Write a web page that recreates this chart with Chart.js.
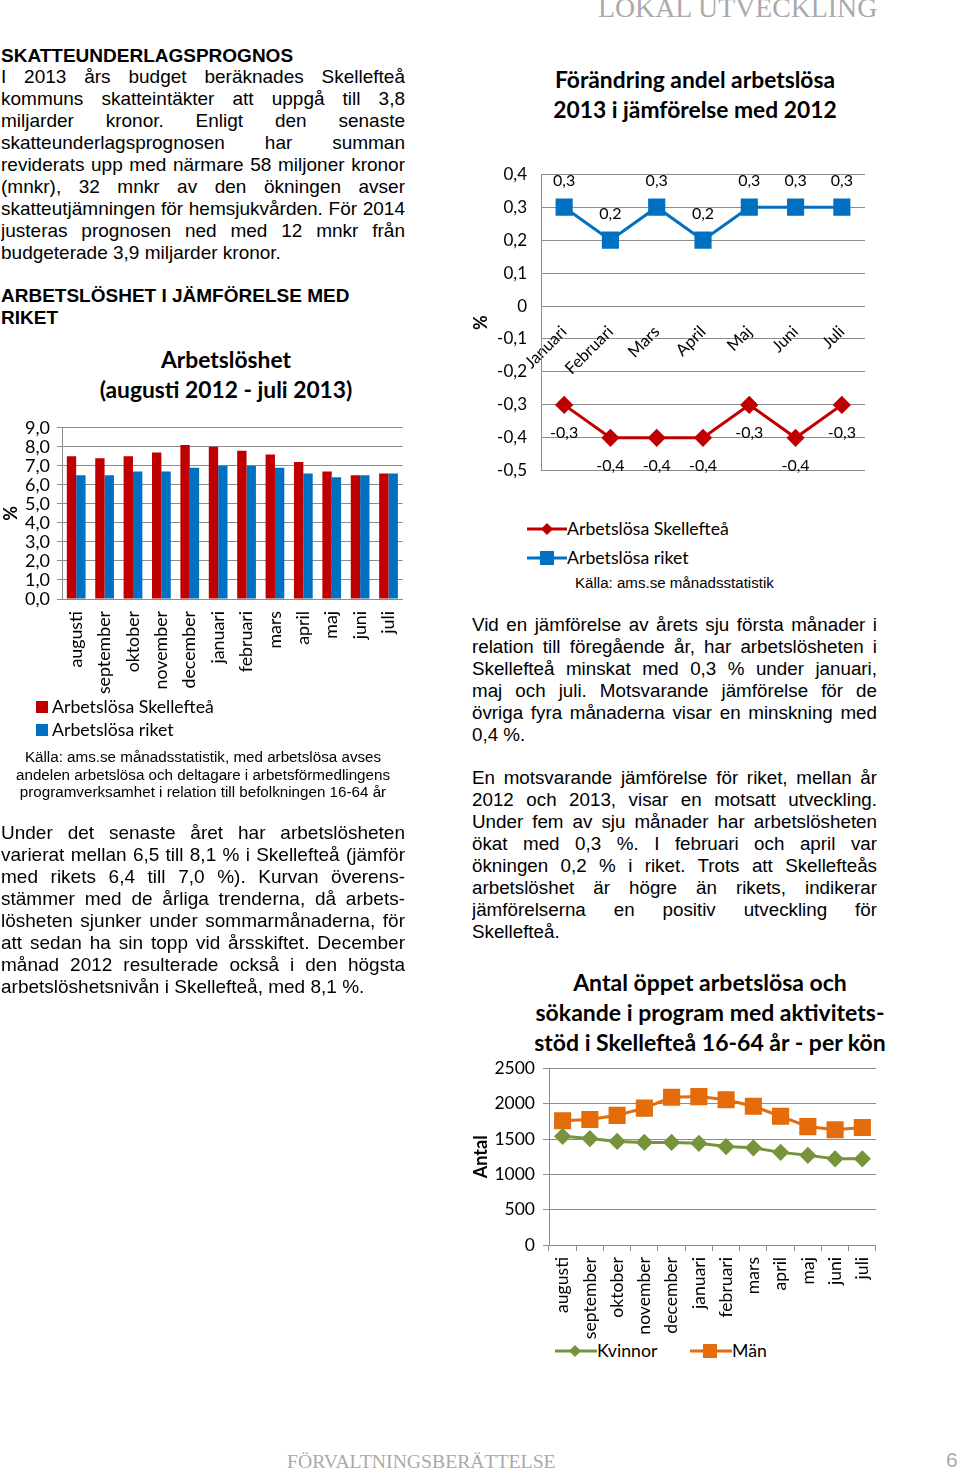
<!DOCTYPE html>
<html lang="sv">
<head>
<meta charset="utf-8">
<script src="https://cdn.jsdelivr.net/npm/chart.js@4.4.0/dist/chart.umd.min.js"></script>
<style>
body{margin:0;background:#fff;width:960px;height:1471px;position:relative;overflow:hidden;font-family:"Liberation Sans",Arial,sans-serif;color:#000;}
.abs{position:absolute;}
.para{position:absolute;font-size:19px;line-height:22px;}
.para span{display:block;white-space:nowrap;text-align:justify;text-align-last:justify;overflow:hidden;}
.para span.last{text-align-last:left;}
.head{position:absolute;font-weight:bold;font-size:19px;line-height:22px;}
.ctitle{position:absolute;font-family:Lato,sans-serif;font-weight:bold;font-size:22.8px;line-height:30px;text-align:center;}
.leg{position:absolute;font-family:Lato,sans-serif;font-size:17.7px;line-height:22px;white-space:nowrap;}
.src{position:absolute;font-size:15.2px;line-height:17.5px;text-align:center;}
canvas{position:absolute;}
</style>
</head>
<body>

<div class="abs" style="left:598px;top:-8px;font-family:'Liberation Serif',serif;font-size:27.8px;color:#aaa;">LOKAL UTVECKLING</div>

<div class="head" style="left:1px;top:45px;">SKATTEUNDERLAGSPROGNOS</div>
<div class="para" style="left:1px;top:66px;width:404px;">
<span>I 2013 års budget beräknades Skellefteå</span>
<span>kommuns skatteintäkter att uppgå till 3,8</span>
<span>miljarder kronor. Enligt den senaste</span>
<span>skatteunderlagsprognosen har summan</span>
<span>reviderats upp med närmare 58 miljoner kronor</span>
<span>(mnkr), 32 mnkr av den ökningen avser</span>
<span>skatteutjämningen för hemsjukvården. För 2014</span>
<span>justeras prognosen ned med 12 mnkr från</span>
<span class="last">budgeterade 3,9 miljarder kronor.</span>
</div>

<div class="head" style="left:1px;top:285px;">ARBETSLÖSHET I JÄMFÖRELSE MED<br>RIKET</div>

<div class="ctitle" style="left:60px;top:344px;width:332px;">Arbetslöshet<br>(augusti 2012 - juli 2013)</div>
<canvas id="barChart" width="414" height="295" style="left:0;top:410px;"></canvas>
<div class="leg" style="left:36px;top:696px;"><span style="display:inline-block;width:12px;height:12px;background:#C00000;margin-right:4px;"></span>Arbetslösa Skellefteå</div>
<div class="leg" style="left:36px;top:719px;"><span style="display:inline-block;width:12px;height:12px;background:#0070C0;margin-right:4px;"></span>Arbetslösa riket</div>
<div class="src" style="left:0;top:748px;width:406px;">Källa: ams.se månadsstatistik, med arbetslösa avses<br>andelen arbetslösa och deltagare i arbetsförmedlingens<br>programverksamhet i relation till befolkningen 16-64 år</div>

<div class="para" style="left:1px;top:822px;width:404px;">
<span>Under det senaste året har arbetslösheten</span>
<span>varierat mellan 6,5 till 8,1 % i Skellefteå (jämför</span>
<span>med rikets 6,4 till 7,0 %). Kurvan överens-</span>
<span>stämmer med de årliga trenderna, då arbets-</span>
<span>lösheten sjunker under sommarmånaderna, för</span>
<span>att sedan ha sin topp vid årsskiftet. December</span>
<span>månad 2012 resulterade också i den högsta</span>
<span class="last">arbetslöshetsnivån i Skellefteå, med 8,1 %.</span>
</div>

<div class="ctitle" style="left:525px;top:64px;width:340px;">Förändring andel arbetslösa<br>2013 i jämförelse med 2012</div>
<canvas id="diffChart" width="410" height="345" style="left:470px;top:150px;"></canvas>
<div class="leg" style="left:527px;top:518px;"><svg width="40" height="14" style="vertical-align:-1px"><line x1="0" y1="7" x2="40" y2="7" stroke="#C00000" stroke-width="3"/><polygon points="20,1 26,7 20,13 14,7" fill="#C00000"/></svg>Arbetslösa Skellefteå</div>
<div class="leg" style="left:527px;top:547px;"><svg width="40" height="14" style="vertical-align:-1px"><line x1="0" y1="7" x2="40" y2="7" stroke="#0070C0" stroke-width="3"/><rect x="13" y="0" width="14" height="14" fill="#0070C0"/></svg>Arbetslösa riket</div>
<div class="abs" style="left:575px;top:574px;font-size:15.1px;">Källa: ams.se månadsstatistik</div>

<div class="para" style="left:472px;top:614px;width:405px;font-size:18.8px;">
<span>Vid en jämförelse av årets sju första månader i</span>
<span>relation till föregående år, har arbetslösheten i</span>
<span>Skellefteå minskat med 0,3 % under januari,</span>
<span>maj och juli. Motsvarande jämförelse för de</span>
<span>övriga fyra månaderna visar en minskning med</span>
<span class="last">0,4 %.</span>
</div>
<div class="para" style="left:472px;top:767px;width:405px;font-size:18.8px;">
<span>En motsvarande jämförelse för riket, mellan år</span>
<span>2012 och 2013, visar en motsatt utveckling.</span>
<span>Under fem av sju månader har arbetslösheten</span>
<span>ökat med 0,3 %. I februari och april var</span>
<span>ökningen 0,2 % i riket. Trots att Skellefteås</span>
<span>arbetslöshet är högre än rikets, indikerar</span>
<span>jämförelserna en positiv utveckling för</span>
<span class="last">Skellefteå.</span>
</div>

<div class="ctitle" style="left:525px;top:967px;width:370px;font-size:23px;">Antal öppet arbetslösa och<br>sökande i program med aktivitets-<br>stöd i Skellefteå 16-64 år - per kön</div>
<canvas id="genderChart" width="420" height="290" style="left:470px;top:1050px;"></canvas>
<div class="leg" style="left:555px;top:1340px;"><svg width="42" height="14" style="vertical-align:-1px"><line x1="0" y1="7" x2="42" y2="7" stroke="#77933C" stroke-width="3"/><polygon points="20,1 26,7 20,13 14,7" fill="#77933C"/></svg>Kvinnor</div>
<div class="leg" style="left:690px;top:1340px;"><svg width="42" height="14" style="vertical-align:-1px"><line x1="0" y1="7" x2="42" y2="7" stroke="#E46C0A" stroke-width="3"/><rect x="13" y="0" width="14" height="14" fill="#E46C0A"/></svg>Män</div>

<div class="abs" style="left:287px;top:1450px;font-family:'Liberation Serif',serif;font-size:19.7px;color:#aaa;">FÖRVALTNINGSBERÄTTELSE</div>
<div class="abs" style="left:946px;top:1448px;font-family:'Liberation Sans',sans-serif;font-size:21px;color:#aaa;">6</div>

<script>
const monthsLong = ["augusti","september","oktober","november","december","januari","februari","mars","april","maj","juni","juli"];
const skellefteaRate = [7.5,7.4,7.5,7.7,8.1,8.0,7.8,7.6,7.2,6.7,6.5,6.6];
const riketRate = [6.5,6.5,6.7,6.7,6.9,7.0,7.0,6.9,6.6,6.4,6.5,6.6];

const monthsShort = ["Januari","Februari","Mars","April","Maj","Juni","Juli"];
const skellefteaDiff = [-0.3,-0.4,-0.4,-0.4,-0.3,-0.4,-0.3];
const riketDiff = [0.3,0.2,0.3,0.2,0.3,0.3,0.3];

const kvinnor = [1540,1508,1467,1453,1453,1440,1394,1376,1312,1271,1220,1220];
const man = [1760,1778,1837,1938,2093,2102,2057,1965,1824,1677,1632,1664];

const chartFont = "Lato, sans-serif";
const gridGrey = "#8c8c8c";

// shrink any justified line that would not fit its column
document.querySelectorAll(".para span").forEach(span => {
    let size = parseFloat(getComputedStyle(span).fontSize);
    while(span.scrollWidth > span.clientWidth && size > 12){
        size -= 0.2;
        span.style.fontSize = size + "px";
    }
});

function comma(v, d){
    return v.toFixed(d).replace(".", ",");
}

/* BAR CHART */

new Chart(document.getElementById("barChart"), {
    type: "bar",
    data: {
        labels: monthsLong,
        datasets: [
            {label:"Arbetslösa Skellefteå", data: skellefteaRate, backgroundColor:"#C00000", categoryPercentage:0.66, barPercentage:1},
            {label:"Arbetslösa riket", data: riketRate, backgroundColor:"#0070C0", categoryPercentage:0.66, barPercentage:1}
        ]
    },
    options: {
        responsive:false,
        animation:false,
        layout:{padding:{top:17, right:3, left:0, bottom:0}},
        plugins:{legend:{display:false}, tooltip:{enabled:false}},
        scales:{
            x:{
                grid:{display:false},
                border:{color:gridGrey},
                ticks:{font:{family:chartFont, size:17.8}, color:"#000", minRotation:90, maxRotation:90, padding:4, autoSkip:false},
                afterFit(s){ s.height = 106; }
            },
            y:{
                min:0, max:9,
                ticks:{stepSize:1, autoSkip:false, font:{family:chartFont, size:18}, color:"#000", padding:7,
                    callback:(v) => comma(v, 1)},
                grid:{color:gridGrey, tickLength:5},
                border:{color:gridGrey},
                title:{display:true, text:"%", font:{family:chartFont, size:18, weight:"bold"}, color:"#000", padding:{top:0,bottom:0}},
                afterFit(s){ s.width = 62; }
            }
        }
    }
});

/* DIFF LINE CHART */

const valueLabels = {
    id:"valueLabels",
    afterDatasetsDraw(chart){
        const ctx = chart.ctx;
        ctx.save();
        ctx.font = "16px " + chartFont;
        ctx.fillStyle = "#000";
        ctx.textAlign = "center";
        ctx.textBaseline = "middle";
        chart.data.datasets.forEach((ds, i) => {
            chart.getDatasetMeta(i).data.forEach((pt, j) => {
                ctx.fillText(comma(ds.data[j], 1), pt.x, pt.y + ds.labelOffset);
            });
        });
        ctx.restore();
    }
};

new Chart(document.getElementById("diffChart"), {
    type: "line",
    data: {
        labels: monthsShort,
        datasets: [
            {label:"Arbetslösa Skellefteå", data: skellefteaDiff, borderColor:"#C00000", backgroundColor:"#C00000",
             borderWidth:3, pointStyle:"rectRot", pointRadius:7, tension:0, labelOffset:28},
            {label:"Arbetslösa riket", data: riketDiff, borderColor:"#0070C0", backgroundColor:"#0070C0",
             borderWidth:3, pointStyle:"rect", pointRadius:10, tension:0, labelOffset:-26}
        ]
    },
    options: {
        responsive:false,
        animation:false,
        layout:{padding:{top:18, right:15, left:0, bottom:15}},
        plugins:{legend:{display:false}, tooltip:{enabled:false}},
        scales:{
            x:{
                position:{y:0},
                offset:true,
                grid:{display:false},
                border:{display:false},
                ticks:{font:{family:chartFont, size:16.5}, color:"#000", minRotation:45, maxRotation:45, padding:8, autoSkip:false}
            },
            y:{
                min:-0.5, max:0.4,
                ticks:{stepSize:0.1, autoSkip:false, font:{family:chartFont, size:17}, color:"#000", padding:14,
                    callback:(v) => { const r = Math.round(v * 10) / 10; return r === 0 ? "0" : comma(r, 1); }},
                grid:{color:gridGrey, drawTicks:false},
                border:{color:gridGrey},
                title:{display:true, text:"%", font:{family:chartFont, size:18, weight:"bold"}, color:"#000", padding:{top:0,bottom:0}},
                afterFit(s){ s.width = 71; }
            }
        }
    },
    plugins:[valueLabels]
});

/* GENDER LINE CHART */

new Chart(document.getElementById("genderChart"), {
    type: "line",
    data: {
        labels: monthsLong,
        datasets: [
            {label:"Kvinnor", data: kvinnor, borderColor:"#77933C", backgroundColor:"#77933C",
             borderWidth:3, pointStyle:"rectRot", pointRadius:6.5, tension:0},
            {label:"Män", data: man, borderColor:"#E46C0A", backgroundColor:"#E46C0A",
             borderWidth:3, pointStyle:"rect", pointRadius:10, tension:0}
        ]
    },
    options: {
        responsive:false,
        animation:false,
        layout:{padding:{top:13, right:5, left:0, bottom:0}},
        plugins:{legend:{display:false}, tooltip:{enabled:false}},
        scales:{
            x:{
                offset:true,
                grid:{offset:true, drawOnChartArea:false, color:gridGrey, tickLength:6},
                border:{color:gridGrey},
                ticks:{font:{family:chartFont, size:17.6}, color:"#000", minRotation:90, maxRotation:90, padding:6, autoSkip:false},
                afterFit(s){ s.height = 95; }
            },
            y:{
                min:0, max:2500,
                ticks:{stepSize:500, autoSkip:false, font:{family:chartFont, size:17.5}, color:"#000", padding:8,
                    callback:(v) => String(v)},
                grid:{color:gridGrey, tickLength:6},
                border:{color:gridGrey},
                title:{display:true, text:"Antal", font:{family:chartFont, size:18, weight:"bold"}, color:"#000", padding:{top:0,bottom:0}},
                afterFit(s){ s.width = 79; }
            }
        }
    }
});
</script>
</body>
</html>
